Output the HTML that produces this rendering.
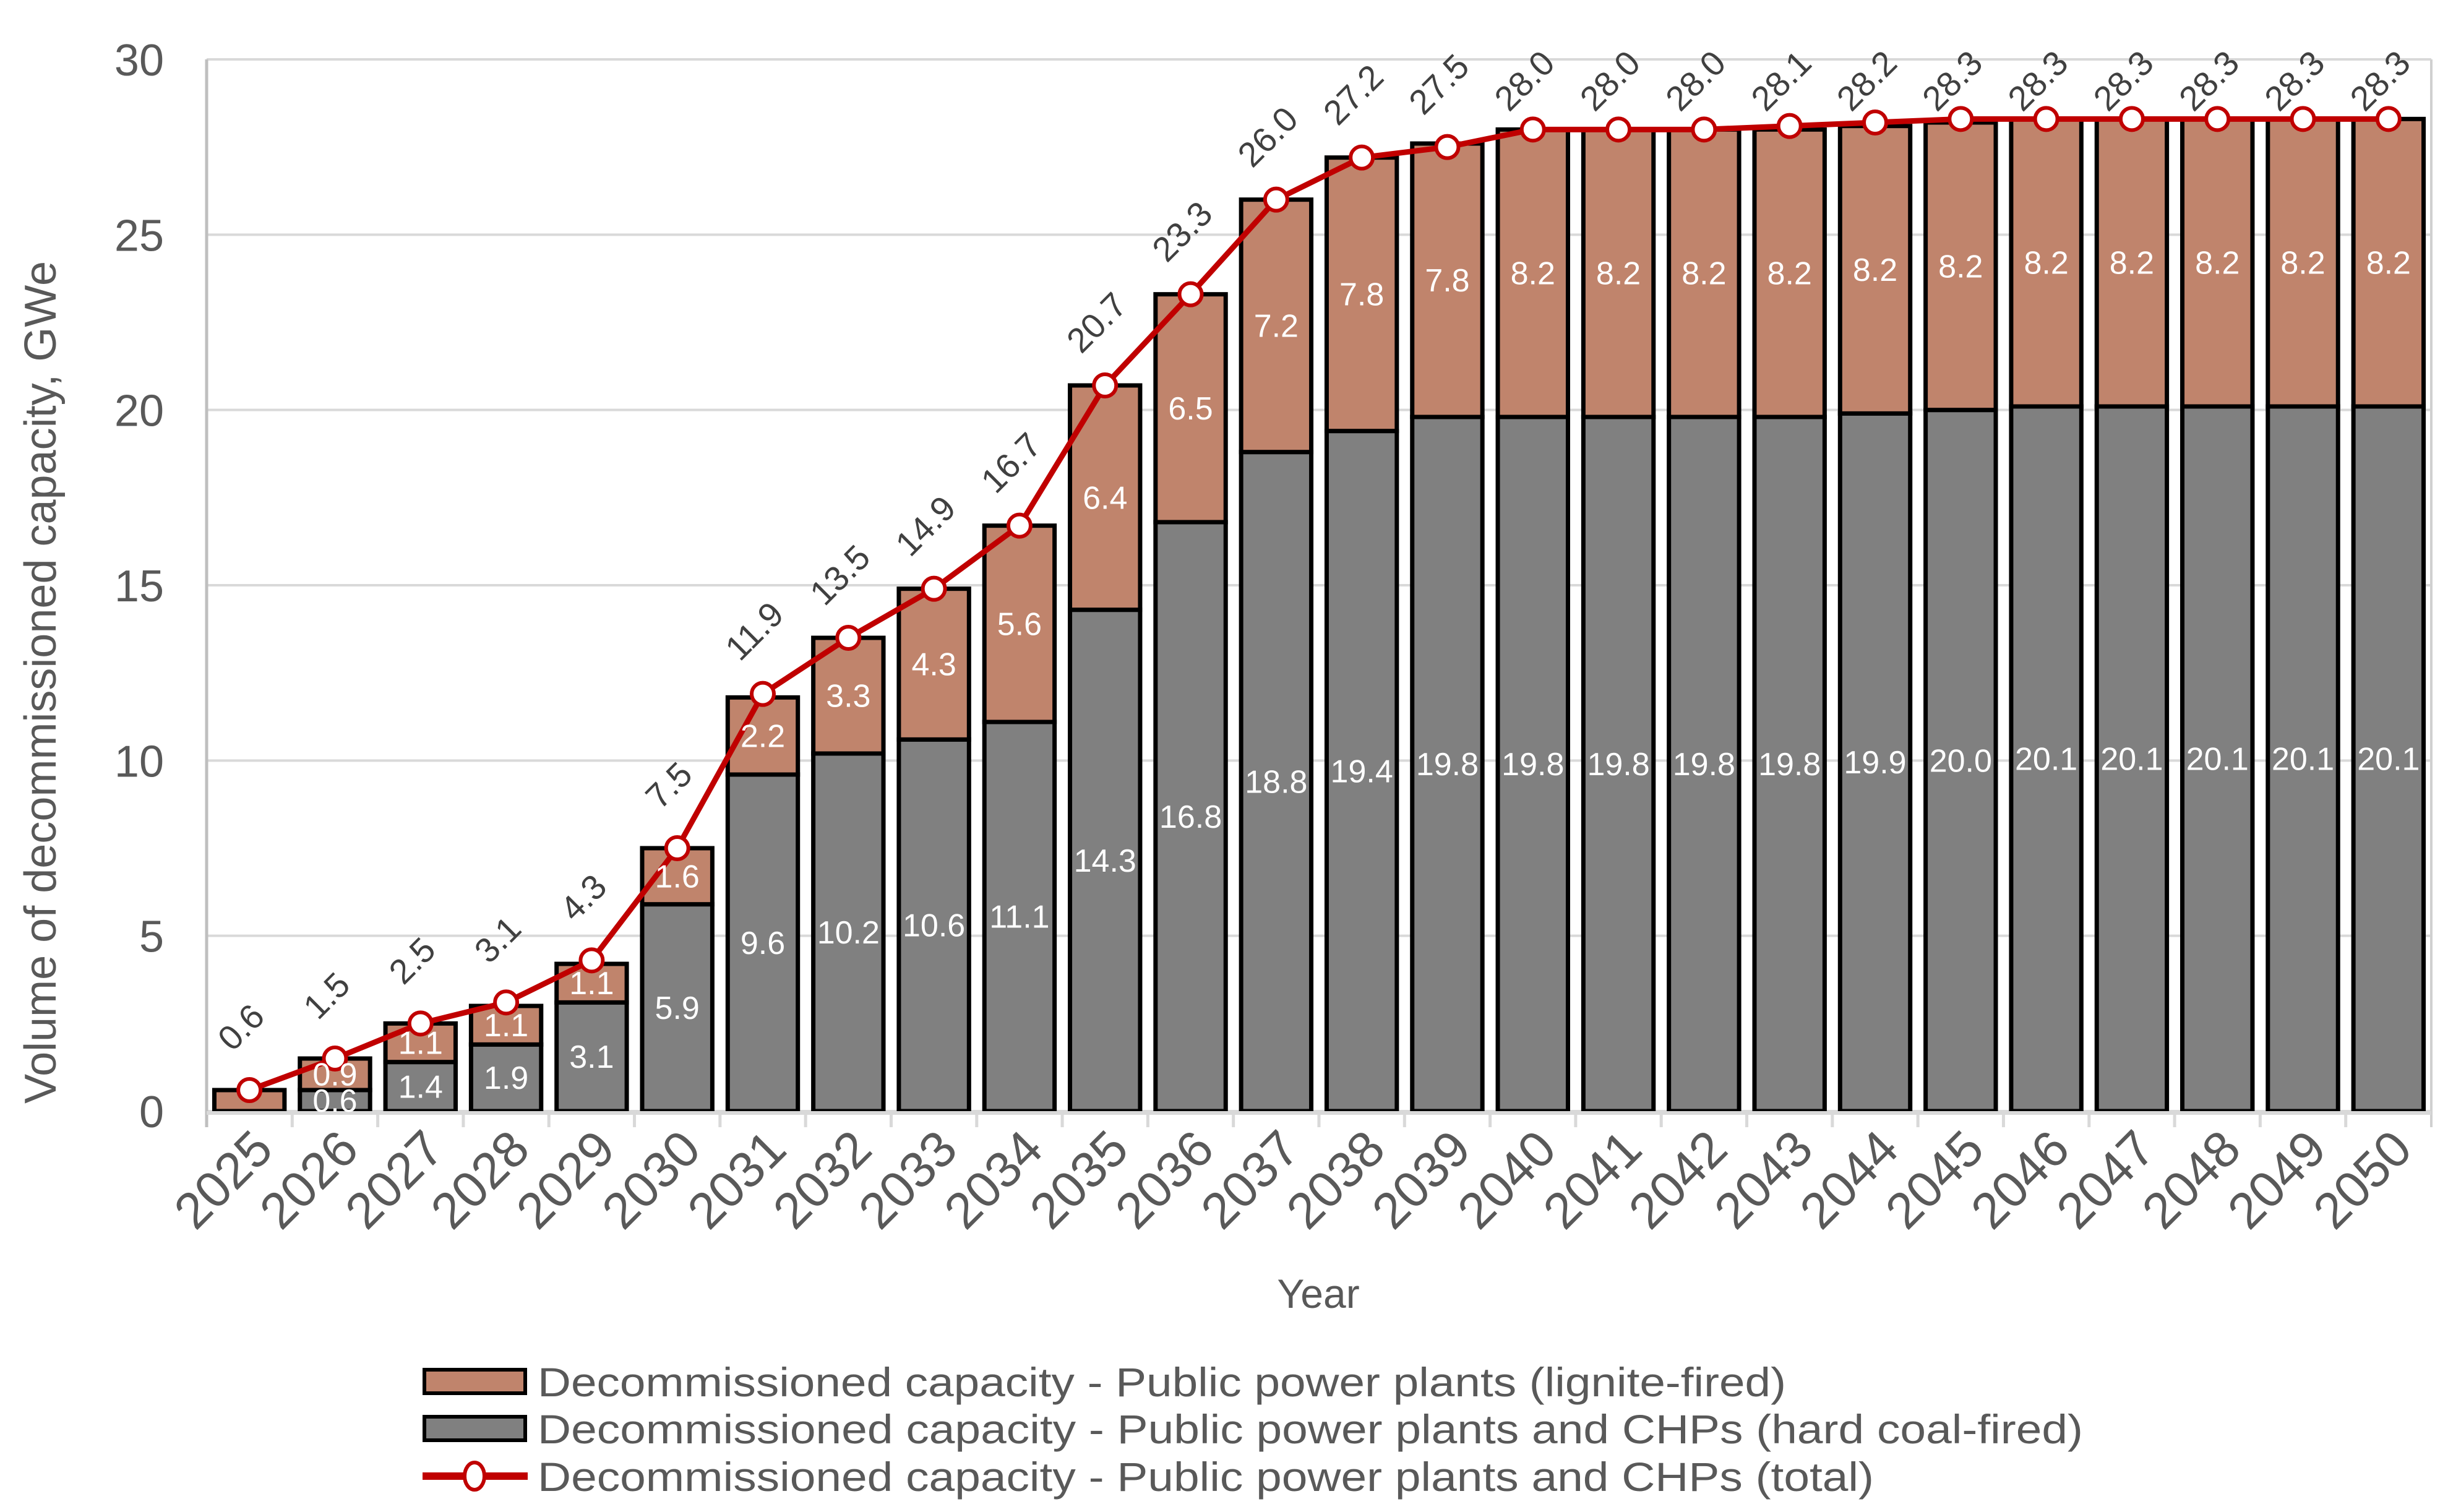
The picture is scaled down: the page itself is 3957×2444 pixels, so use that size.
<!DOCTYPE html>
<html><head><meta charset="utf-8"><style>
html,body{margin:0;padding:0;background:#fff;}
svg{display:block;font-family:"Liberation Sans",sans-serif;}
</style></head><body>
<svg id="chart" width="3957" height="2444" viewBox="0 0 3957 2444" xmlns="http://www.w3.org/2000/svg">
<g id="grid"></g>
<g id="bars"></g>
<g id="axes"></g>
<g id="line"></g>
<g id="labels"></g>
<text x="2131" y="2114" font-size="66" fill="#595959" text-anchor="middle">Year</text>
<text transform="translate(90,1103) rotate(-90)" font-size="72" fill="#595959" text-anchor="middle">Volume of decommissioned capacity,  GWe</text>
<g>
  <g>
    <rect x="686" y="2214" width="163" height="38" fill="#C0846C" stroke="#000" stroke-width="6"/>
    <text x="869" y="2257" font-size="66" fill="#595959" textLength="2018" lengthAdjust="spacingAndGlyphs">Decommissioned capacity - Public power plants (lignite-fired)</text>
  </g>
  <g>
    <rect x="686" y="2290" width="163" height="38" fill="#808080" stroke="#000" stroke-width="6"/>
    <text x="869" y="2333" font-size="66" fill="#595959" textLength="2498" lengthAdjust="spacingAndGlyphs">Decommissioned capacity - Public power plants and CHPs (hard coal-fired)</text>
  </g>
  <g>
    <line x1="683" y1="2386" x2="853" y2="2386" stroke="#C00000" stroke-width="12"/>
    <ellipse cx="767" cy="2386" rx="16" ry="22" fill="#fff" stroke="#C00000" stroke-width="6"/>
    <text x="869" y="2410" font-size="66" fill="#595959" textLength="2160" lengthAdjust="spacingAndGlyphs">Decommissioned capacity - Public power plants and CHPs (total)</text>
  </g>
</g>
</svg>
<script>
const years = [2025,2026,2027,2028,2029,2030,2031,2032,2033,2034,2035,2036,2037,2038,2039,2040,2041,2042,2043,2044,2045,2046,2047,2048,2049,2050];
const hardCoal = [0,0.6,1.4,1.9,3.1,5.9,9.6,10.2,10.6,11.1,14.3,16.8,18.8,19.4,19.8,19.8,19.8,19.8,19.8,19.9,20.0,20.1,20.1,20.1,20.1,20.1];
const lignite = [0.6,0.9,1.1,1.1,1.1,1.6,2.2,3.3,4.3,5.6,6.4,6.5,7.2,7.8,7.8,8.2,8.2,8.2,8.2,8.2,8.2,8.2,8.2,8.2,8.2,8.2];
const total = [0.6,1.5,2.5,3.1,4.3,7.5,11.9,13.5,14.9,16.7,20.7,23.3,26.0,27.2,27.5,28.0,28.0,28.0,28.1,28.2,28.3,28.3,28.3,28.3,28.3,28.3];
const yTicks = [0,5,10,15,20,25,30];

const NS = "http://www.w3.org/2000/svg";
const L = 334, R = 3930, Y0 = 1796, Y30 = 96;
const bw = (R - L) / years.length;
const xc = i => L + (i + 0.5) * bw;
const ys = v => Y0 - (v / 30) * (Y0 - Y30);
function mk(tag, attrs, parent, txt) {
  const e = document.createElementNS(NS, tag);
  for (const k in attrs) e.setAttribute(k, attrs[k]);
  if (txt !== undefined) e.textContent = txt;
  parent.appendChild(e);
  return e;
}
const grid = document.getElementById('grid'), bars = document.getElementById('bars'),
      axes = document.getElementById('axes'), line = document.getElementById('line'),
      labels = document.getElementById('labels');

yTicks.forEach(t => {
  const g = mk('line', {x1: L, x2: R, y1: ys(t), y2: ys(t), stroke: '#d9d9d9', 'stroke-width': 4}, grid);
  
  
  const tx = mk('text', {x: 265, y: ys(t) + 26, 'font-size': 72, fill: '#595959', 'text-anchor': 'end'}, axes, String(t));
  
  
});
mk('line', {x1: L, x2: L, y1: Y30, y2: Y0 + 26, stroke: '#bfbfbf', 'stroke-width': 5}, axes);
mk('line', {x1: R, x2: R, y1: Y30, y2: Y0 + 26, stroke: '#d0d0d0', 'stroke-width': 4}, axes);
mk('line', {x1: L, x2: R, y1: Y0 + 3, y2: Y0 + 3, stroke: '#d9d9d9', 'stroke-width': 6}, axes);

const barW = bw * 0.82;
years.forEach((yr, i) => {
  const x = xc(i) - barW / 2;
  if (hardCoal[i] > 0) {
    const r = mk('rect', {x: x, y: ys(hardCoal[i]), width: barW, height: ys(0) - ys(hardCoal[i]), fill: '#808080', stroke: '#000', 'stroke-width': 7}, bars);
    
    
    const t = mk('text', {x: xc(i), y: ys(hardCoal[i] / 2) + 18, 'font-size': 52, fill: '#fff', 'text-anchor': 'middle'}, labels, hardCoal[i].toFixed(1));
    
    
  }
  const top = hardCoal[i] + lignite[i];
  const r2 = mk('rect', {x: x, y: ys(top), width: barW, height: ys(hardCoal[i]) - ys(top), fill: '#C0846C', stroke: '#000', 'stroke-width': 7}, bars);
  
  
  if (hardCoal[i] > 0) {
    const t2 = mk('text', {x: xc(i), y: ys(hardCoal[i] + lignite[i] / 2) + 18, 'font-size': 52, fill: '#fff', 'text-anchor': 'middle'}, labels, lignite[i].toFixed(1));
    
    
  }
  if (i > 0) {
    const tk = mk('line', {x1: L + i * bw, x2: L + i * bw, y1: Y0, y2: Y0 + 26, stroke: '#d9d9d9', 'stroke-width': 5}, axes);
    
    
  }
  const xl = mk('text', {transform: 'translate(' + (xc(i) + 42) + ',1862) rotate(-45)', 'font-size': 82, fill: '#595959', 'text-anchor': 'end'}, axes, String(yr));
  
  
});

const pts = total.map((v, i) => xc(i) + ',' + ys(v)).join(' ');
const pl = mk('polyline', {points: pts, fill: 'none', stroke: '#C00000', 'stroke-width': 9, 'stroke-linejoin': 'round'}, line);


total.forEach((v, i) => {
  const c = mk('circle', {cx: xc(i), cy: ys(v), r: 18, fill: '#fff', stroke: '#C00000', 'stroke-width': 6}, line);
  
  
  const ly = Math.max(ys(v) - 106, 126);
  const t = mk('text', {transform: 'translate(' + xc(i) + ',' + (ly + 18) + ') rotate(-45)', 'font-size': 56, fill: '#404040', 'text-anchor': 'middle'}, labels, v.toFixed(1));
  
  
});
</script>
</body></html>
